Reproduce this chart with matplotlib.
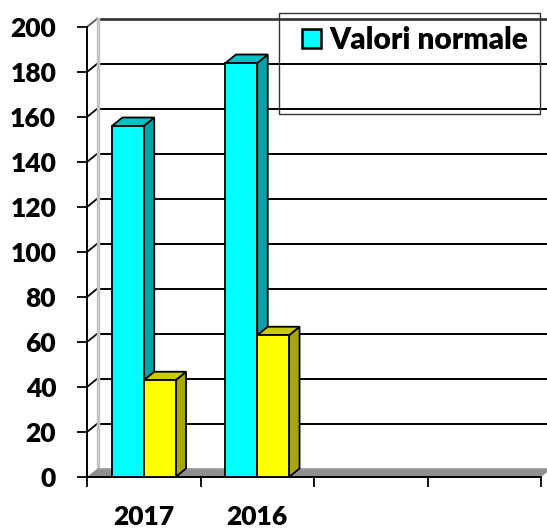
import matplotlib
matplotlib.use("Agg")
import matplotlib.pyplot as plt
from matplotlib.patches import Polygon, Rectangle, Patch
from matplotlib.lines import Line2D

# ---- data ----
categories = ["2017", "2016", "", ""]
valori_normale = [156, 184]
serie_2 = [43, 63]
series_names = ["Valori normale", ""]
y_ticks = list(range(0, 201, 20))

# ---- style ----
W, H, DPI = 547, 528, 100
FONT = "Lato"
FW = "heavy"
FS = 19
cyan_front, cyan_side, cyan_top = "#00FFFF", "#00A3A3", "#00C4C4"
yel_front, yel_side, yel_top = "#FFFF00", "#A8A800", "#CACA00"
DX_PX, DY_PX = 10.5, 8.5

fig = plt.figure(figsize=(W / DPI, H / DPI), dpi=DPI)
ax_l, ax_r, ax_b, ax_t = 87, 541, 477, 27
ax = fig.add_axes([ax_l / W, (H - ax_b) / H, (ax_r - ax_l) / W, (ax_b - ax_t) / H])
ncat = len(categories)
ax.set_xlim(0, ncat)
ax.set_ylim(0, 200)
ax.patch.set_visible(False)

# depth in data units
dxd = DX_PX * ncat / (ax_r - ax_l)
dyd = DY_PX * 200 / (ax_b - ax_t)

# back wall gridlines
for v in y_ticks[1:]:
    col = "#3a3a3a" if v == 200 else "black"
    lw = 2.0 if v == 200 else 1.4
    ax.add_line(Line2D([dxd, ncat + dxd], [v + dyd, v + dyd], color=col, lw=lw,
                       clip_on=False, zorder=1))
    # side wall diagonal
    ax.add_line(Line2D([0, dxd], [v, v + dyd], color="#555555" if v == 200 else "black",
                       lw=1.3, clip_on=False, zorder=1))
# back-left vertical edge
ax.add_line(Line2D([dxd, dxd], [dyd, 200 + dyd], color="#c4c4c4", lw=2.5,
                   clip_on=False, zorder=1.2))

# floor
ax.add_patch(Polygon([(0, 0), (ncat, 0), (ncat + dxd, dyd), (dxd, dyd)],
                     closed=True, facecolor="#8e8e8e", edgecolor="none",
                     clip_on=False, zorder=2))
ax.add_line(Line2D([dxd, ncat + dxd], [dyd, dyd], color="#a0a0a0", lw=1.2,
                   clip_on=False, zorder=2.1))

# bars
bw = 0.28
xs = [i + 0.5 for i in range(len(valori_normale))]


def bar3d(x0, h, front, side, top, z):
    ax.bar([x0], [h], width=bw, align="edge", color=front, edgecolor="black",
           linewidth=1.3, zorder=z + 0.2)
    ax.add_patch(Polygon([(x0 + bw, 0), (x0 + bw + dxd, dyd), (x0 + bw + dxd, h + dyd), (x0 + bw, h)],
                         closed=True, facecolor=side, edgecolor="black", lw=1.3,
                         zorder=z, clip_on=False))
    ax.add_patch(Polygon([(x0, h), (x0 + dxd, h + dyd), (x0 + bw + dxd, h + dyd), (x0 + bw, h)],
                         closed=True, facecolor=top, edgecolor="black", lw=1.3,
                         zorder=z, clip_on=False))


for i, (xc, a, b) in enumerate(zip(xs, valori_normale, serie_2)):
    bar3d(xc - bw, a, cyan_front, cyan_side, cyan_top, 3 + i * 2)
    bar3d(xc, b, yel_front, yel_side, yel_top, 4 + i * 2)

# axes styling
for s in ["top", "right"]:
    ax.spines[s].set_visible(False)
for s in ["left", "bottom"]:
    ax.spines[s].set_linewidth(1.4)
    ax.spines[s].set_zorder(2.5)
ax.set_yticks(y_ticks)
ax.set_yticklabels([str(v) for v in y_ticks], fontfamily=FONT, fontweight=FW, fontsize=FS)
ax.tick_params(axis="y", direction="out", length=7.2, width=1.3, pad=15)
ax.set_xticks(range(ncat + 1))
ax.set_xticklabels([""] * (ncat + 1))
ax.set_xticks([i + 0.5 for i in range(ncat)], minor=True)
ax.set_xticklabels(categories, minor=True, fontfamily=FONT, fontweight=FW, fontsize=FS)
ax.tick_params(axis="x", which="major", direction="out", length=7.2, width=1.3)
ax.tick_params(axis="x", which="minor", length=0, pad=20)

# legend
fig.patches.append(Rectangle((279 / W, (H - 114) / H), (540 - 279) / W, (114 - 13) / H,
                             transform=fig.transFigure, fill=False, edgecolor="#333333",
                             lw=1.0, zorder=10))
handle = Patch(facecolor=cyan_front, edgecolor="black", linewidth=1.8, label=series_names[0])
leg = fig.legend(handles=[handle], loc="upper left", bbox_to_anchor=(302 / W, (H - 26) / H),
                 frameon=False, handlelength=0.62, handleheight=0.62, handletextpad=0.3,
                 borderpad=0, borderaxespad=0,
                 prop={"family": FONT, "weight": FW, "size": 21.5})

fig.savefig("out.png", dpi=DPI)
